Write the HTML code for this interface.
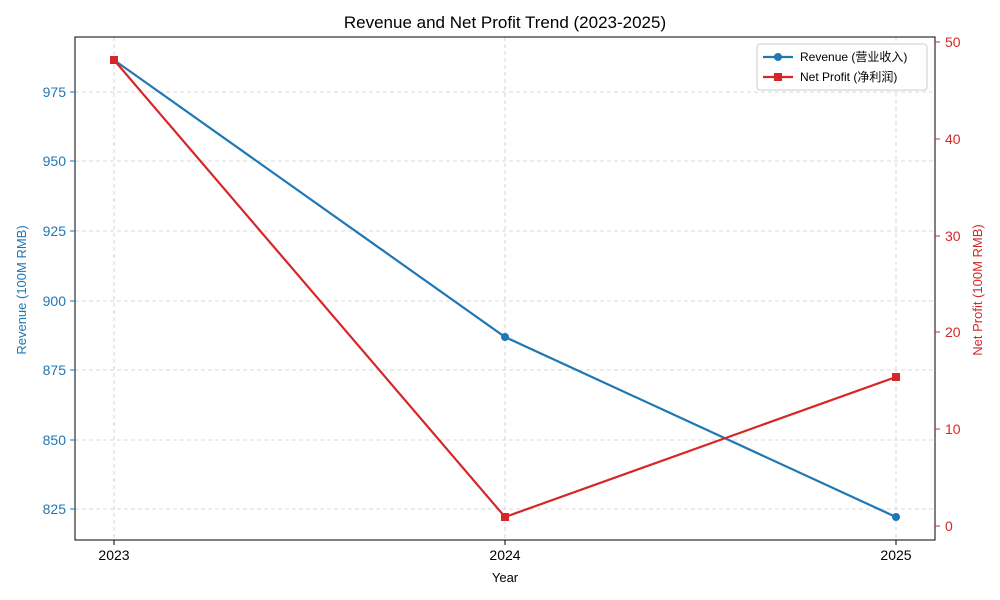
<!DOCTYPE html>
<html><head><meta charset="utf-8"><style>body{margin:0;background:#fff}svg{display:block}text{font-family:"Liberation Sans","Noto Sans CJK SC",sans-serif}</style></head><body>
<svg width="1000" height="600" xmlns="http://www.w3.org/2000/svg">
<rect width="1000" height="600" fill="#fff"/>
<g stroke="#ccc" stroke-dasharray="4,3" stroke-width="0.8">
<line x1="114" y1="37" x2="114" y2="540"/><line x1="505" y1="37" x2="505" y2="540"/><line x1="896" y1="37" x2="896" y2="540"/>
<line x1="75" y1="509" x2="935" y2="509"/><line x1="75" y1="440" x2="935" y2="440"/><line x1="75" y1="370" x2="935" y2="370"/><line x1="75" y1="301" x2="935" y2="301"/><line x1="75" y1="231" x2="935" y2="231"/><line x1="75" y1="161" x2="935" y2="161"/><line x1="75" y1="92" x2="935" y2="92"/>
</g>
<rect x="75" y="37" width="860" height="503" fill="none" stroke="#000" stroke-width="1"/>
<g stroke="#000"><line x1="114" y1="540" x2="114" y2="545"/><line x1="505" y1="540" x2="505" y2="545"/><line x1="896" y1="540" x2="896" y2="545"/></g>
<g font-size="14" fill="#000" text-anchor="middle"><text x="114" y="560">2023</text><text x="505" y="560">2024</text><text x="896" y="560">2025</text></g>
<text x="505" y="582" font-size="13" text-anchor="middle">Year</text>
<text x="505" y="28" font-size="17" text-anchor="middle">Revenue and Net Profit Trend (2023-2025)</text>
<g stroke="#1f77b4"><line x1="70" y1="509" x2="75" y2="509"/><line x1="70" y1="440" x2="75" y2="440"/><line x1="70" y1="370" x2="75" y2="370"/><line x1="70" y1="301" x2="75" y2="301"/><line x1="70" y1="231" x2="75" y2="231"/><line x1="70" y1="161" x2="75" y2="161"/><line x1="70" y1="92" x2="75" y2="92"/></g>
<g font-size="14" fill="#1f77b4" text-anchor="end"><text x="66" y="514">825</text><text x="66" y="445">850</text><text x="66" y="375">875</text><text x="66" y="306">900</text><text x="66" y="236">925</text><text x="66" y="166">950</text><text x="66" y="97">975</text></g>
<text transform="translate(26,290) rotate(-90)" font-size="13" fill="#1f77b4" text-anchor="middle">Revenue (100M RMB)</text>
<g stroke="#d62728"><line x1="935" y1="526" x2="940" y2="526"/><line x1="935" y1="429" x2="940" y2="429"/><line x1="935" y1="332" x2="940" y2="332"/><line x1="935" y1="236" x2="940" y2="236"/><line x1="935" y1="139" x2="940" y2="139"/><line x1="935" y1="42" x2="940" y2="42"/></g>
<g font-size="14" fill="#d62728"><text x="945" y="531">0</text><text x="945" y="434">10</text><text x="945" y="337">20</text><text x="945" y="241">30</text><text x="945" y="144">40</text><text x="945" y="47">50</text></g>
<text transform="translate(982,290) rotate(-90)" font-size="13" fill="#d62728" text-anchor="middle">Net Profit (100M RMB)</text>
<polyline points="114,60 505,337 896,517" fill="none" stroke="#1f77b4" stroke-width="2.2"/>
<g fill="#1f77b4"><circle cx="114" cy="60" r="4"/><circle cx="505" cy="337" r="4"/><circle cx="896" cy="517" r="4"/></g>
<polyline points="114,60 505,517 896,377" fill="none" stroke="#d62728" stroke-width="2.2"/>
<g fill="#d62728"><rect x="110" y="56" width="8" height="8"/><rect x="501" y="513" width="8" height="8"/><rect x="892" y="373" width="8" height="8"/></g>
<rect x="757" y="44" width="170" height="46" rx="3" fill="#fff" stroke="#ccc"/>
<line x1="763" y1="57" x2="793" y2="57" stroke="#1f77b4" stroke-width="2.2"/><circle cx="778" cy="57" r="4" fill="#1f77b4"/>
<text x="800" y="61" font-size="12">Revenue (营业收入)</text>
<line x1="763" y1="77" x2="793" y2="77" stroke="#d62728" stroke-width="2.2"/><rect x="774" y="73" width="8" height="8" fill="#d62728"/>
<text x="800" y="81" font-size="12">Net Profit (净利润)</text>
</svg>
</body></html>
